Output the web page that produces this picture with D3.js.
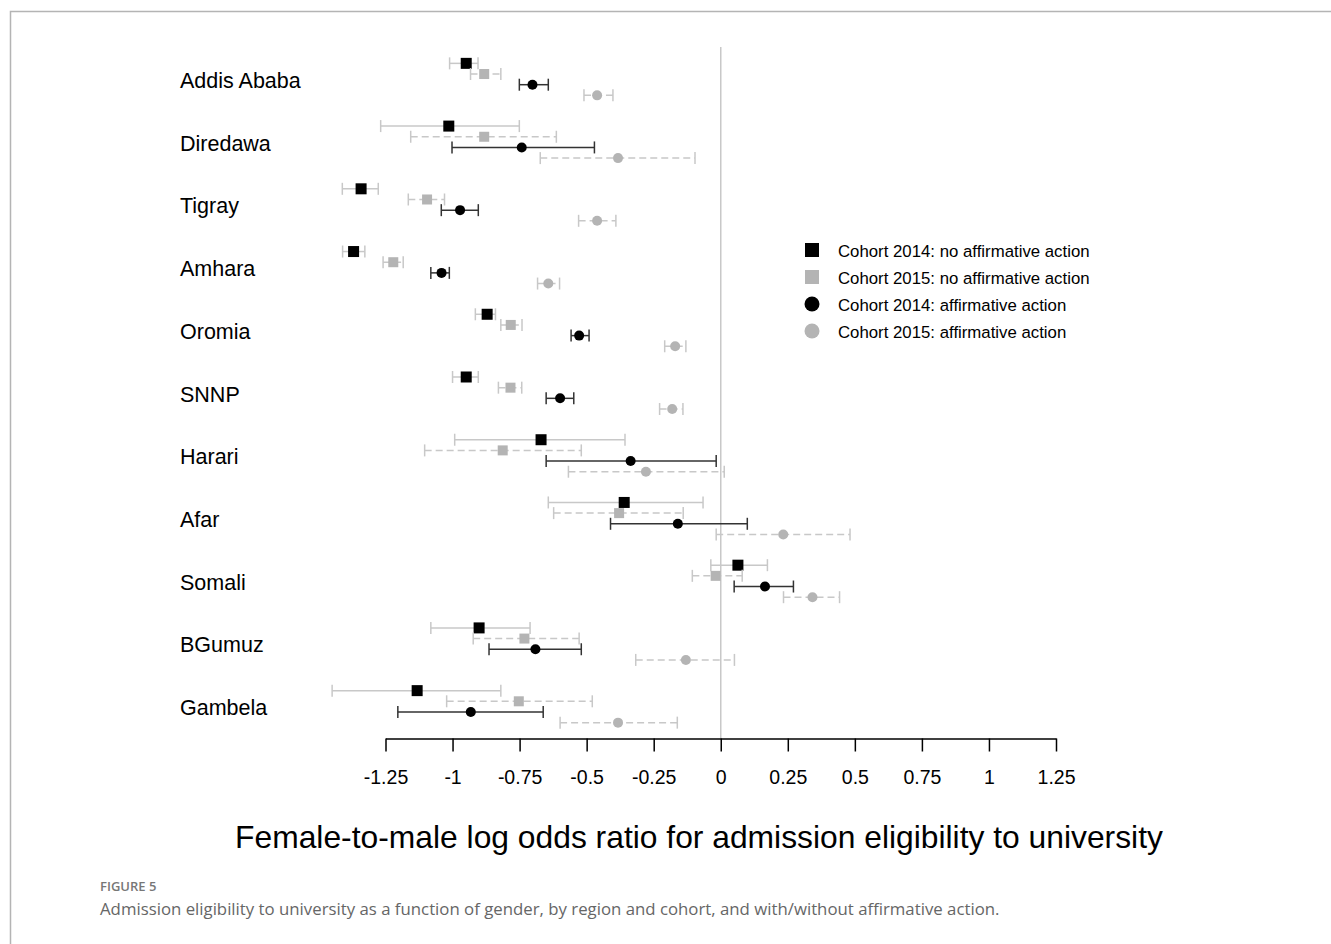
<!DOCTYPE html>
<meta charset="utf-8">
<style>
  body { margin: 0; background: #fff; }
  svg { display: block; }
</style>
<script src="https://d3js.org/d3.v7.min.js"></script>
<div id="my_dataviz"></div>
<script>

// regions, top to bottom
var regions = ["Addis Ababa", "Diredawa", "Tigray", "Amhara", "Oromia", "SNNP",
               "Harari", "Afar", "Somali", "BGumuz", "Gambela"];

// cohort 2014, no affirmative action
var est14no = [-0.949, -1.014, -1.341, -1.369, -0.871, -0.949, -0.670, -0.360,  0.064, -0.901, -1.132];
var lo14no  = [-1.011, -1.268, -1.411, -1.410, -0.915, -1.000, -0.992, -0.643, -0.037, -1.081, -1.449];
var hi14no  = [-0.905, -0.751, -1.277, -1.327, -0.840, -0.904, -0.357, -0.066,  0.174, -0.711, -0.820];

// cohort 2015, no affirmative action
var est15no = [-0.882, -0.882, -1.095, -1.221, -0.783, -0.784, -0.813, -0.379, -0.019, -0.732, -0.753];
var lo15no  = [-0.933, -1.156, -1.165, -1.259, -0.820, -0.829, -1.104, -0.623, -0.106, -0.923, -1.022];
var hi15no  = [-0.820, -0.613, -1.030, -1.184, -0.741, -0.742, -0.520, -0.140,  0.080, -0.528, -0.479];

// cohort 2014, affirmative action
var est14aa = [-0.702, -0.742, -0.972, -1.041, -0.528, -0.599, -0.336, -0.160,  0.165, -0.691, -0.932];
var lo14aa  = [-0.751, -1.002, -1.042, -1.081, -0.558, -0.651, -0.651, -0.411,  0.050, -0.864, -1.204];
var hi14aa  = [-0.643, -0.471, -0.904, -1.012, -0.491, -0.548, -0.017,  0.099,  0.271, -0.520, -0.662];

// cohort 2015, affirmative action
var est15aa = [-0.461, -0.383, -0.461, -0.643, -0.170, -0.181, -0.279,  0.233,  0.342, -0.130, -0.383];
var lo15aa  = [-0.510, -0.673, -0.530, -0.683, -0.209, -0.228, -0.568, -0.017,  0.234, -0.317, -0.599];
var hi15aa  = [-0.402, -0.096, -0.391, -0.601, -0.130, -0.141,  0.013,  0.482,  0.443,  0.051, -0.162];

var seriesNames = ["Cohort 2014: no affirmative action", "Cohort 2015: no affirmative action",
                   "Cohort 2014: affirmative action", "Cohort 2015: affirmative action"];
var tickVals = [-1.25, -1, -0.75, -0.5, -0.25, 0, 0.25, 0.5, 0.75, 1, 1.25];
var tickLabels = ["-1.25", "-1", "-0.75", "-0.5", "-0.25", "0", "0.25", "0.5", "0.75", "1", "1.25"];

var W = 1331, H = 944;
var plotFont = "'Liberation Sans', Arial, sans-serif";

var svg = d3.select("#my_dataviz")
  .append("svg")
    .attr("width", W)
    .attr("height", H);

// frame of the figure panel
svg.append("rect")
  .attr("x", 10.5).attr("y", 11.5)
  .attr("width", W + 20).attr("height", H + 20)
  .style("fill", "none")
  .style("stroke", "#b4b4b4")
  .style("stroke-width", 1.5);

var x = d3.scaleLinear()
  .domain([-1.25, 1.25])
  .range([385.5, 1056]);

var y = d3.scaleBand()
  .domain(regions)
  .range([48, 738]);

var styles = [
  {name: seriesNames[0], est: est14no, lo: lo14no, hi: hi14no, shape: "square", size: 11, fill: "#000", line: "#c8c8c8", dash: null},
  {name: seriesNames[1], est: est15no, lo: lo15no, hi: hi15no, shape: "square", size: 10, fill: "#b4b4b4", line: "#c8c8c8", dash: "7,4"},
  {name: seriesNames[2], est: est14aa, lo: lo14aa, hi: hi14aa, shape: "circle", size: 5, fill: "#000", line: "#333", dash: null},
  {name: seriesNames[3], est: est15aa, lo: lo15aa, hi: hi15aa, shape: "circle", size: 5, fill: "#b4b4b4", line: "#c8c8c8", dash: "7,4"}
];

var rowY = function(i, k) {
  return y(regions[i]) + y.bandwidth() / 2 + (k - 1.5) * 10.67;
};

// zero reference line
svg.append("line")
  .attr("x1", x(0)).attr("x2", x(0))
  .attr("y1", 47).attr("y2", 738)
  .style("stroke", "#c8c8c8")
  .style("stroke-width", 1.5);

// region labels
svg.selectAll(".rlab")
  .data(regions)
  .enter()
  .append("text")
    .attr("x", 180)
    .attr("y", function(d) { return y(d) + y.bandwidth() / 2 + 1; })
    .attr("dy", "0.35em")
    .style("font-family", plotFont)
    .style("font-size", "21.5px")
    .style("fill", "#000")
    .text(function(d) { return d; });

// error bars and points
styles.forEach(function(s, k) {
  var g = svg.append("g");
  var idx = d3.range(regions.length);

  g.selectAll(".bar")
    .data(idx)
    .enter()
    .append("line")
      .attr("x1", function(i) { return x(s.lo[i]); })
      .attr("x2", function(i) { return x(s.hi[i]); })
      .attr("y1", function(i) { return rowY(i, k); })
      .attr("y2", function(i) { return rowY(i, k); })
      .style("stroke", s.line)
      .style("stroke-width", 1.5)
      .style("stroke-dasharray", s.dash);

  ["lo", "hi"].forEach(function(end) {
    g.selectAll(".cap" + end)
      .data(idx)
      .enter()
      .append("line")
        .attr("x1", function(i) { return x(s[end][i]); })
        .attr("x2", function(i) { return x(s[end][i]); })
        .attr("y1", function(i) { return rowY(i, k) - 6; })
        .attr("y2", function(i) { return rowY(i, k) + 6; })
        .style("stroke", s.line)
        .style("stroke-width", 1.5);
  });

  if (s.shape == "square") {
    g.selectAll(".pt")
      .data(idx)
      .enter()
      .append("rect")
        .attr("x", function(i) { return x(s.est[i]) - s.size / 2; })
        .attr("y", function(i) { return rowY(i, k) - s.size / 2; })
        .attr("width", s.size)
        .attr("height", s.size)
        .style("fill", s.fill);
  } else {
    g.selectAll(".pt")
      .data(idx)
      .enter()
      .append("circle")
        .attr("cx", function(i) { return x(s.est[i]); })
        .attr("cy", function(i) { return rowY(i, k); })
        .attr("r", s.size)
        .style("fill", s.fill);
  }
});

// x axis
var axis = svg.append("g")
  .attr("transform", "translate(0,738.5)")
  .call(d3.axisBottom(x)
    .tickValues(tickVals)
    .tickFormat(function(d, i) { return tickLabels[i]; })
    .tickSize(13)
    .tickSizeOuter(0)
    .tickPadding(19));
axis.selectAll("line, path")
  .style("stroke", "#000")
  .style("stroke-width", 1.5);
axis.selectAll("text")
  .style("font-family", plotFont)
  .style("font-size", "19.5px")
  .style("fill", "#000");

// legend
var legend = svg.append("g")
  .attr("transform", "translate(812,250)");
styles.forEach(function(s, k) {
  var ly = k * 27;
  if (s.shape == "square") {
    legend.append("rect")
      .attr("x", -7).attr("y", ly - 7)
      .attr("width", 14).attr("height", 14)
      .style("fill", s.fill);
  } else {
    legend.append("circle")
      .attr("cx", 0).attr("cy", ly)
      .attr("r", 7.5)
      .style("fill", s.fill);
  }
  legend.append("text")
    .attr("x", 26)
    .attr("y", ly + 1)
    .attr("dy", "0.35em")
    .style("font-family", plotFont)
    .style("font-size", "16.8px")
    .style("fill", "#000")
    .text(s.name);
});

// axis title
svg.append("text")
  .attr("x", 699)
  .attr("y", 837)
  .attr("dy", "0.35em")
  .attr("text-anchor", "middle")
  .style("font-family", plotFont)
  .style("font-size", "31.8px")
  .style("fill", "#000")
  .text("Female-to-male log odds ratio for admission eligibility to university");

// figure caption
svg.append("text")
  .attr("x", 100)
  .attr("y", 886)
  .attr("dy", "0.35em")
  .style("font-family", "'Open Sans', sans-serif")
  .style("font-size", "13px")
  .style("font-weight", "600")
  .style("fill", "#777")
  .text("FIGURE 5");

svg.append("text")
  .attr("x", 100)
  .attr("y", 909)
  .attr("dy", "0.35em")
  .style("font-family", "'Open Sans', sans-serif")
  .style("font-size", "16.8px")
  .style("fill", "#666")
  .text("Admission eligibility to university as a function of gender, by region and cohort, and with/without affirmative action.");

</script>
